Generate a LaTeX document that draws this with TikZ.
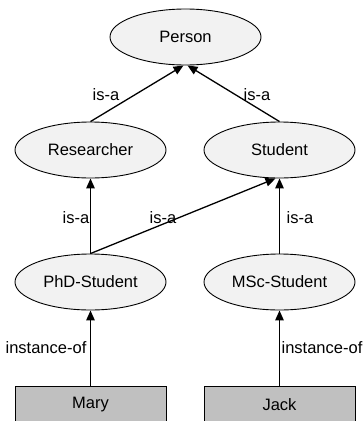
\documentclass[tikz,border=0pt]{standalone}
\usepackage{fontspec}
\setmainfont{Liberation Sans}
\usetikzlibrary{shapes.geometric,arrows.meta}
\definecolor{classfill}{HTML}{F2F2F2}
\definecolor{instfill}{HTML}{C0C0C0}
\begin{document}
\begin{tikzpicture}[x=1pt,y=-1pt,
  every node/.style={font=\fontsize{16.5}{19}\selectfont},
  cls/.style={ellipse,draw=black,line width=0.9pt,fill=classfill,
    minimum width=151pt,minimum height=56pt,inner sep=0pt},
  inst/.style={rectangle,draw=black,line width=0.9pt,fill=instfill,
    minimum width=151pt,minimum height=38pt,inner sep=0pt},
  arr/.style={line width=1.3pt,-{Triangle[length=10pt,width=8.5pt]}},
  lbl/.style={inner sep=0pt}]
\useasboundingbox (0,0) rectangle (364,421);
\begin{scope}
\clip (0,0) rectangle (364,421);
% classes
\node[cls] (person) at (185.5,37) {Person};
\node[cls] (res) at (90.5,150) {Researcher};
\node[cls] (stu) at (279.5,150) {Student};
\node[cls] (phd) at (90.5,282) {PhD-Student};
\node[cls] (msc) at (279.5,282) {MSc-Student};
% instances
\node[inst] (mary) at (90.5,405) {Mary};
\node[inst] (jack) at (279.5,405) {Jack};
% relations
\draw[arr] (res.north) -- ([xshift=-2pt]person.south);
\draw[arr] (stu.north) -- ([xshift=2pt]person.south);
\draw[arr] (phd.north) -- (res.south);
\draw[arr] (phd.north) -- ([xshift=-4pt]stu.south);
\draw[arr] (msc.north) -- (stu.south);
\draw[arr] (mary.north) -- (phd.south);
\draw[arr] (jack.north) -- (msc.south);
% relation labels
\node[lbl] (l1) at (106,95) {is-a};
\node[lbl] (l2) at (257,95) {is-a};
\node[lbl] (l3) at (76,218) {is-a};
\node[lbl] (l4) at (163,218) {is-a};
\node[lbl] (l5) at (300,218) {is-a};
\node[lbl] (l6) at (46,348) {instance-of};
\node[lbl] (l7) at (322,348) {instance-of};
\end{scope}
\end{tikzpicture}
\end{document}
